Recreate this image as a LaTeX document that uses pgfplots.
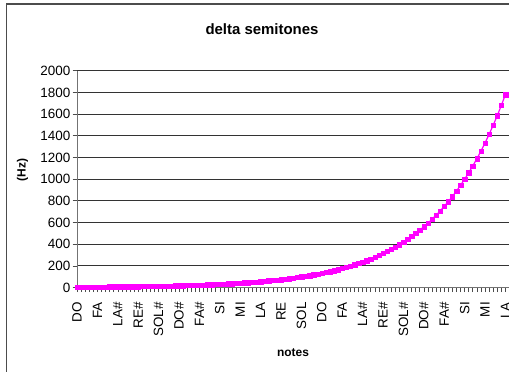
\documentclass[border=0pt]{standalone}
\usepackage{pgfplots}
\pgfplotsset{compat=1.18}
\usepackage{pgfplotstable}
\usepackage{fontspec}
\setmainfont{Liberation Sans}
\definecolor{mag}{HTML}{FF00FF}
\pgfplotstableread{
n v
0 4.13
1 4.38
2 4.64
3 4.92
4 5.21
5 5.52
6 5.85
7 6.19
8 6.56
9 6.95
10 7.37
11 7.80
12 8.27
13 8.76
14 9.28
15 9.83
16 10.42
17 11.04
18 11.69
19 12.39
20 13.13
21 13.91
22 14.73
23 15.61
24 16.54
25 17.52
26 18.56
27 19.67
28 20.84
29 22.07
30 23.39
31 24.78
32 26.25
33 27.81
34 29.47
35 31.22
36 33.08
37 35.04
38 37.13
39 39.33
40 41.67
41 44.15
42 46.78
43 49.56
44 52.50
45 55.63
46 58.93
47 62.44
48 66.15
49 70.08
50 74.25
51 78.67
52 83.34
53 88.30
54 93.55
55 99.11
56 105.01
57 111.25
58 117.87
59 124.87
60 132.30
61 140.17
62 148.50
63 157.33
64 166.69
65 176.60
66 187.10
67 198.23
68 210.01
69 222.50
70 235.73
71 249.75
72 264.60
73 280.33
74 297.00
75 314.66
76 333.37
77 353.20
78 374.20
79 396.45
80 420.03
81 445.00
82 471.46
83 499.50
84 529.20
85 560.67
86 594.00
87 629.33
88 666.74
89 706.39
90 748.40
91 792.90
92 840.05
93 890.00
94 942.92
95 998.99
96 1058.40
97 1121.33
98 1188.01
99 1258.65
100 1333.49
101 1412.79
102 1496.79
103 1585.80
104 1680.10
105 1780.00
}\datatable
\begin{document}
\begin{tikzpicture}
\useasboundingbox (0,0) rectangle (509bp,372bp);
\clip (0,0) rectangle (509bp,372bp);
\draw[line width=1.2bp, black!70] (6.5bp,-10bp) -- (6.5bp,368bp) -- (530bp,368bp);
\begin{axis}[
  at={(77bp,84.5bp)}, anchor=south west,
  scale only axis, width=432.5bp, height=216.8bp,
  xmin=0, xmax=106, ymin=0, ymax=2000,
  axis x line*=bottom, axis y line*=left,
  axis line style={black!55, line width=0.8bp},
  clip=false,
  ytick={0,200,...,2000},
  ymajorgrids, grid style={black!80, line width=0.7bp},
  xtick={0,5,...,105},
  xticklabels={DO,FA,LA\#,RE\#,SOL\#,DO\#,FA\#,SI,MI,LA,RE,SOL,DO,FA,LA\#,RE\#,SOL\#,DO\#,FA\#,SI,MI,LA},
  minor x tick num=4,
  tick align=outside,
  major tick length=4.5bp, minor tick length=4.5bp,
  tick style={black!70, line width=0.6bp},
  scaled y ticks=false,
  /pgf/number format/assume math mode=true,
  /pgf/number format/1000 sep={},
  yticklabel style={font=\fontsize{13.5}{15}\selectfont, inner sep=1bp, xshift=-1bp},
  xticklabel style={font=\fontsize{13.5}{15}\selectfont, rotate=90, anchor=east, inner sep=1bp, xshift=-9bp},
]
\addplot[mag, line width=1.2bp, mark=square*, mark size=2.2bp, mark options={fill=mag, draw=mag, line width=0.2bp}] table[x=n, y=v] {\datatable};
\end{axis}
\node[anchor=base, font=\bfseries\fontsize{15}{18}\selectfont] at (262bp,337bp) {delta semitones};
\node[rotate=90, font=\bfseries\fontsize{12}{14}\selectfont] at (22.5bp,202bp) {(Hz)};
\node[anchor=base, font=\bfseries\fontsize{12}{14}\selectfont] at (293bp,15.3bp) {notes};
\end{tikzpicture}
\end{document}
